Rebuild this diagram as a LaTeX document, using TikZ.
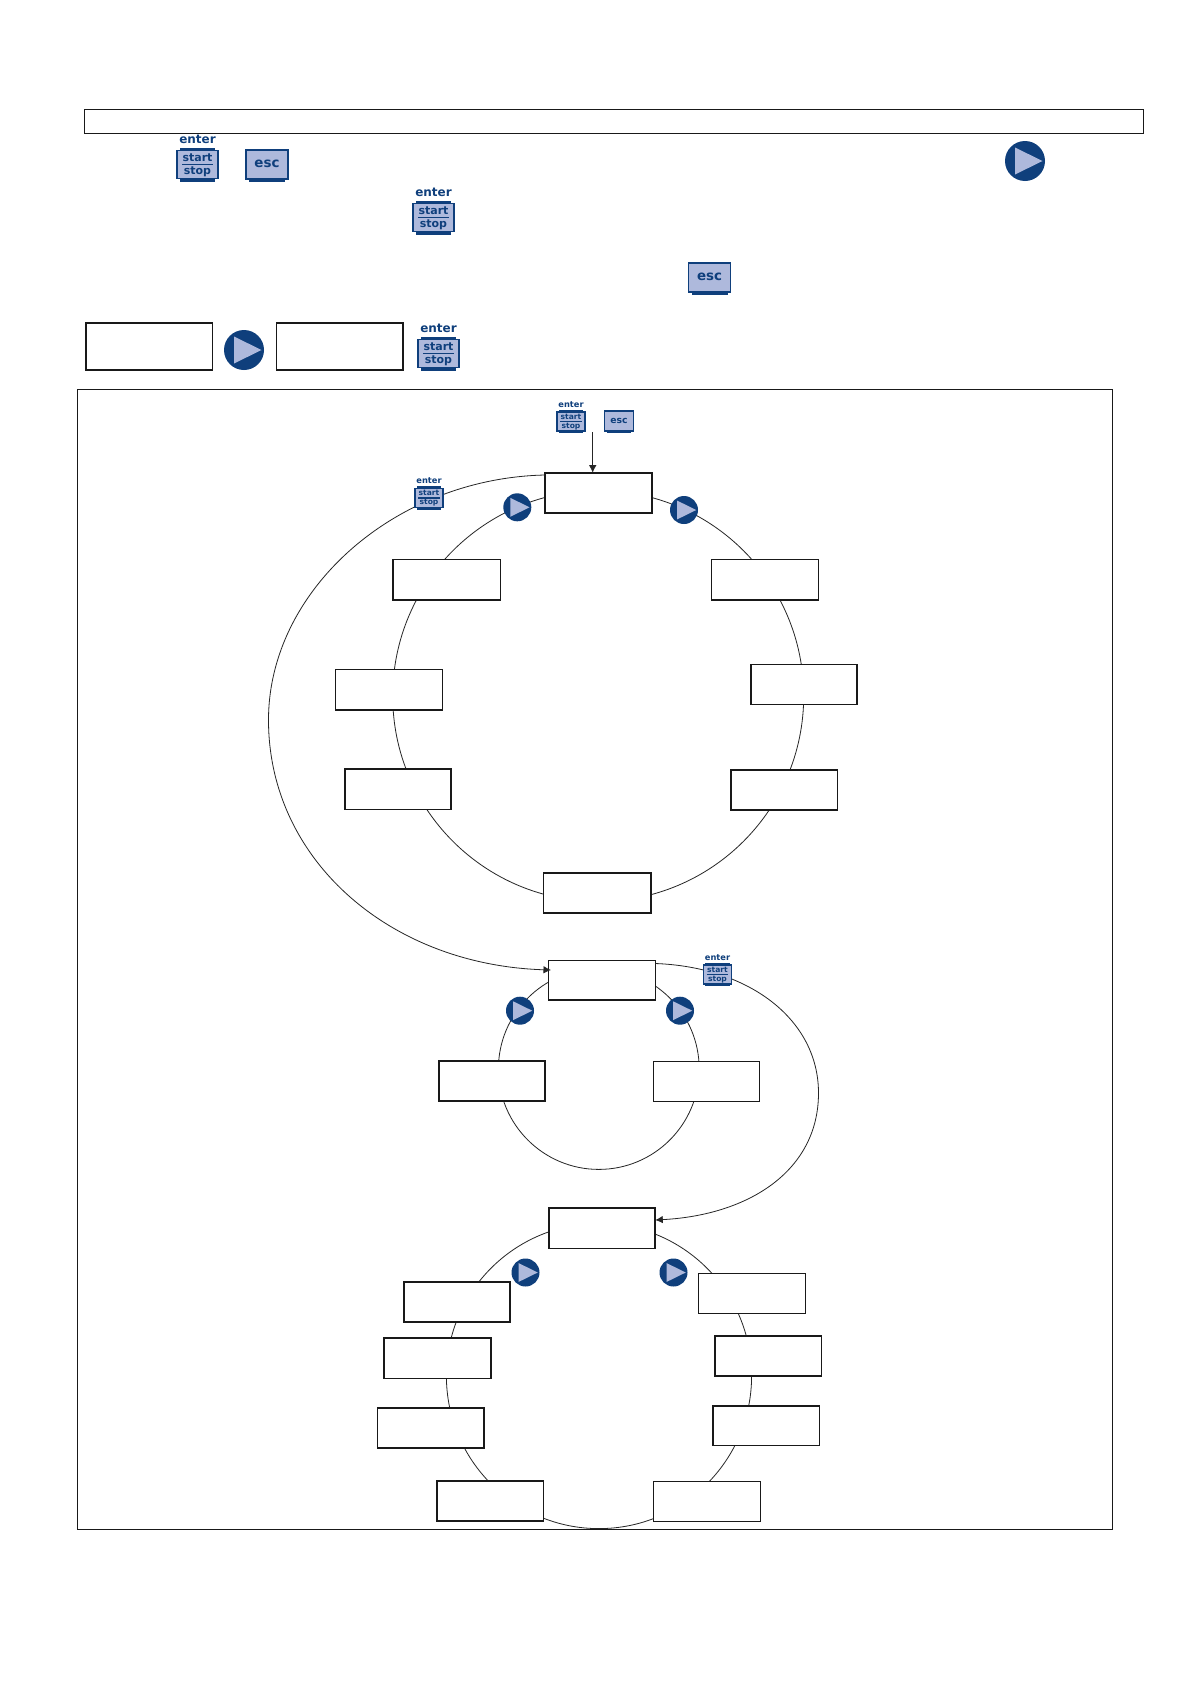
\documentclass[tikz,border=0pt]{standalone}
\usepackage{fontspec}
\setsansfont{DejaVu Sans}
\usetikzlibrary{arrows.meta}
\definecolor{navy}{HTML}{0F3F7C}
\definecolor{peri}{HTML}{AEB9DC}
\tikzset{
  panel/.style={draw=black!90,line width=#1,fill=white,inner sep=0pt,outer sep=0pt,anchor=north west},
  panel/.default=1.8pt,
  ring/.style={draw=black!85,line width=0.8pt},
  link/.style={draw=black!85,line width=0.8pt},
  linkarrow/.style={link,-{Latex[length=7.5pt,width=7.5pt]}},
  keybody/.style={draw=navy,fill=peri,line width=1.5pt,minimum width=41pt,minimum height=28pt,inner sep=0pt,outer sep=0pt,transform shape},
  keystrip/.style={fill=navy,draw=none},
  keytext/.style={text=navy,font=\sffamily\bfseries\fontsize{#1}{#1}\selectfont,inner sep=0pt,transform shape},
  disc/.style={fill=navy,draw=none,circle,minimum size=40pt,inner sep=0pt,transform shape},
  wedge/.style={fill=peri,draw=none}
}
\newcommand{\enterkey}[4]{% name, cx, cy, scale
  \begin{scope}[shift={(#2,#3)},scale=#4]
    \fill[keystrip] (-17.5,-17) rectangle (17.5,17);
    \node[keybody] (#1) at (0,0) {};
    \node[keytext=12] (#1e) at (0,-25) {enter};
    \node[keytext=11] (#1a) at (0,-7) {start};
    \node[keytext=11] (#1o) at (0,6.8) {stop};
    \draw[navy,line width=1.4pt] (-15.5,0) -- (15.5,0);
  \end{scope}}
\newcommand{\esckey}[4]{% name, cx, cy, scale
  \begin{scope}[shift={(#2,#3)},scale=#4]
    \fill[keystrip] (-18,10) rectangle (18,17);
    \node[keybody,minimum width=42pt,minimum height=29pt] (#1) at (0,0) {};
    \node[keytext=13.4] (#1t) at (0,-0.5) {esc};
  \end{scope}}
\newcommand{\playkey}[4]{% name, cx, cy, scale
  \begin{scope}[shift={(#2,#3)},scale=#4]
    \node[disc] (#1) at (0,0) {};
    \fill[wedge] (-10,-13.5) -- (17.5,0) -- (-10,13.5) -- cycle;
  \end{scope}}
\newcommand{\pbox}[6][1.8pt]{% thickness, name, x1, y1, x2, y2
  \pgfmathsetmacro{\pw}{#5-#3}\pgfmathsetmacro{\ph}{#6-#4}
  \node[panel=#1,minimum width=\pw pt,minimum height=\ph pt] (#2) at (#3,#4) {};}
\begin{document}
\begin{tikzpicture}[x=1pt,y=-1pt]
\useasboundingbox (0,0) rectangle (1190,1684);
\fill[white] (0,0) rectangle (1190,1684);

% header
\pbox[1.2pt]{head}{84.3}{109.3}{1143.3}{133.3}
\enterkey{ka}{197.5}{164.5}{1}
\esckey{kb}{267}{164.5}{1}
\playkey{kc}{1025}{161}{1}
\enterkey{kd}{433.5}{217.5}{1}
\esckey{ke}{709.5}{277.5}{1}
\pbox[1.9pt]{sa}{85.7}{322.7}{212.5}{370}
\playkey{kf}{244}{350}{1}
\pbox[1.9pt]{sb}{276.5}{322.7}{403}{370}
\enterkey{kg}{438.5}{353.5}{1}

% frame
\pbox[0.9pt]{frame}{77}{389.3}{1112.7}{1529.5}

% rings
\draw[ring] (598.2,696) circle[radius=205.5pt];
\draw[ring] (598.8,1069) circle[radius=100.4pt];
\draw[ring] (599,1376) circle[radius=152.6pt];

% ring 1 boxes
\pbox[1.8pt]{ra}{545.3}{472.7}{651.7}{513.3}
\pbox[1.4pt]{rb}{393}{559.5}{500.5}{600}
\pbox[1.2pt]{rc}{335.6}{669.7}{442.5}{710}
\pbox[1.8pt]{rd}{344.8}{769}{451}{809.5}
\pbox[1.8pt]{re}{543.5}{873.2}{650.8}{913}
\pbox[1.2pt]{rf}{731}{770}{837.7}{810}
\pbox[1.8pt]{rg}{751}{664.5}{857}{704.5}
\pbox[1.8pt]{rh}{711.5}{559.5}{818.5}{600}

% ring 2 boxes
\pbox[1.5pt]{ma}{548.7}{960.7}{655.3}{1000}
\pbox[1.9pt]{mb}{438.7}{1060.7}{545.3}{1101}
\pbox[1.1pt]{mc}{653.3}{1061.7}{759.7}{1101.3}

% ring 3 boxes
\pbox[1.8pt]{ba}{548.7}{1208.3}{655.3}{1248.5}
\pbox[1.8pt]{bb}{403.8}{1282.3}{510.2}{1322}
\pbox[1.8pt]{bc}{384}{1338.2}{490.8}{1378.5}
\pbox[1.2pt]{bd}{377.5}{1408}{484}{1448}
\pbox[1.8pt]{be}{437}{1481}{543.5}{1521}
\pbox[1pt]{bf}{653.3}{1481}{760}{1521}
\pbox[1.2pt]{bg}{713}{1406}{819.5}{1445.5}
\pbox[1.5pt]{bh}{714.8}{1336}{821.5}{1375.8}
\pbox[1pt]{bi}{698.6}{1273.2}{805.5}{1313}

% connector ends
\coordinate (a1s) at (545.3,475);
\coordinate (a1e) at (551,970);
\coordinate (a2s) at (655.3,963.5);
\coordinate (a2e) at (655.3,1220);
\coordinate (a3s) at (592.7,432);
\coordinate (a3e) at (592.7,472.7);

% connectors
\draw[link] (a1s) .. controls (395,478) and (268.5,590) .. (268.5,720);
\draw[linkarrow] (268.5,720) .. controls (268.5,860) and (390,965) .. (a1e);
\draw[link] (a2s) .. controls (750,967) and (818.5,1020) .. (818.5,1093);
\draw[linkarrow] (818.5,1093) .. controls (818.5,1170) and (750,1215) .. (a2e);
\draw[linkarrow] (a3s) -- (a3e);

% small keys
\enterkey{ks}{571}{421.5}{0.69}
\esckey{kt}{619}{421}{0.69}
\enterkey{ku}{429}{498}{0.69}
\playkey{kv}{517.3}{507.3}{0.7}
\playkey{kw}{684}{510}{0.7}
\enterkey{kx}{717.5}{974.5}{0.69}
\playkey{ky}{520}{1010.7}{0.7}
\playkey{kz}{680}{1010.7}{0.7}
\playkey{kp}{525.5}{1272.5}{0.7}
\playkey{kq}{673.5}{1272.5}{0.7}
\end{tikzpicture}
\end{document}
